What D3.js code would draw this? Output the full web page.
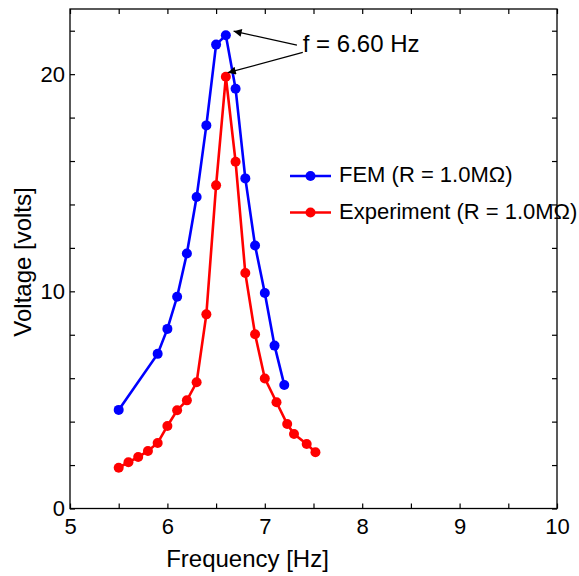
<!DOCTYPE html>
<html>
<head>
<meta charset="utf-8">
<script src="https://cdn.jsdelivr.net/npm/d3@7"></script>
<style>
  body { margin: 0; background: #fff; }
  svg { display: block; font-family: "Liberation Sans", Arial, sans-serif; }
  .axis text { font-size: 22px; fill: #000; font-family: "Liberation Sans", Arial, sans-serif; }
  .axis line { stroke: #000; stroke-width: 1.2; }
</style>
</head>
<body>
<main></main>
<script>
// FEM series
var femFreq = [5.5, 5.9, 6.0, 6.1, 6.2, 6.3, 6.4, 6.5, 6.6, 6.7, 6.8, 6.9, 7.0, 7.1, 7.2];
var femVolt = [4.54, 7.12, 8.27, 9.75, 11.74, 14.34, 17.64, 21.36, 21.79, 19.33, 15.2, 12.11, 9.92, 7.5, 5.69];

// Experiment series
var expFreq = [5.5, 5.6, 5.7, 5.8, 5.9, 6.0, 6.1, 6.2, 6.3, 6.4, 6.5, 6.6, 6.7, 6.8, 6.9, 7.0, 7.12, 7.23, 7.3, 7.43, 7.52];
var expVolt = [1.88, 2.13, 2.37, 2.65, 3.02, 3.80, 4.52, 4.98, 5.81, 8.94, 14.88, 19.88, 15.97, 10.84, 8.02, 5.99, 4.89, 3.89, 3.43, 2.97, 2.59];

var xTicks = [5, 5.5, 6, 6.5, 7, 7.5, 8, 8.5, 9, 9.5, 10];
var yTicks = [0, 2, 4, 6, 8, 10, 12, 14, 16, 18, 20, 22];
var xLabelled = [5, 6, 7, 8, 9, 10];
var yLabelled = [0, 10, 20];

var legendNames = ["FEM (R = 1.0M\u03A9)", "Experiment (R = 1.0M\u03A9)"];
var annoText = "f = 6.60 Hz";

var svg = d3.select("main").append("svg").attr("width", 579).attr("height", 576);

// plot box (window.top is reserved, so prefixed names)
var pLeft = 70, pRight = 557, pTop = 9, pBottom = 508.5;

var x = d3.scaleLinear().domain([5, 10]).range([pLeft, pRight]);
var y = d3.scaleLinear().domain([0, 23]).range([pBottom, pTop]);

function fmtX(d) { return xLabelled.indexOf(d) >= 0 ? d : ""; }
function fmtY(d) { return yLabelled.indexOf(d) >= 0 ? d : ""; }

// axes, ticks pointing inward
svg.append("g").attr("class", "axis")
    .attr("transform", "translate(0," + pBottom + ")")
    .call(d3.axisBottom(x).tickValues(xTicks).tickSize(-5).tickPadding(10).tickFormat(fmtX))
    .call(g => g.select(".domain").remove());

svg.append("g").attr("class", "axis")
    .attr("transform", "translate(0," + pTop + ")")
    .call(d3.axisTop(x).tickValues(xTicks).tickSize(-5).tickFormat(""))
    .call(g => g.select(".domain").remove());

svg.append("g").attr("class", "axis")
    .attr("transform", "translate(" + pLeft + ",0)")
    .call(d3.axisLeft(y).tickValues(yTicks).tickSize(-5).tickPadding(5).tickFormat(fmtY))
    .call(g => g.select(".domain").remove());

svg.append("g").attr("class", "axis")
    .attr("transform", "translate(" + pRight + ",0)")
    .call(d3.axisRight(y).tickValues(yTicks).tickSize(-5).tickFormat(""))
    .call(g => g.select(".domain").remove());

svg.append("rect")
    .attr("x", pLeft).attr("y", pTop)
    .attr("width", pRight - pLeft).attr("height", pBottom - pTop)
    .attr("fill", "none").attr("stroke", "#000").attr("stroke-width", 1.3);

// axis titles
svg.append("text")
    .attr("x", 247.5).attr("y", 567)
    .attr("text-anchor", "middle")
    .attr("font-size", 24)
    .text("Frequency [Hz]");

svg.append("text")
    .attr("transform", "translate(31,262) rotate(-90)")
    .attr("text-anchor", "middle")
    .attr("font-size", 24)
    .text("Voltage [volts]");

var line = d3.line().x(d => x(d[0])).y(d => y(d[1]));

var series = [
    { freq: femFreq, volt: femVolt, color: "#0000ff" },
    { freq: expFreq, volt: expVolt, color: "#ff0000" }
];

series.forEach(function(s) {
    var pts = s.freq.map((f, i) => [f, s.volt[i]]);
    svg.append("path")
        .datum(pts)
        .attr("d", line)
        .attr("fill", "none")
        .attr("stroke", s.color)
        .attr("stroke-width", 2.6);
    svg.append("g").selectAll("circle")
        .data(pts)
        .enter().append("circle")
        .attr("cx", d => x(d[0]))
        .attr("cy", d => y(d[1]))
        .attr("r", 5)
        .attr("fill", s.color);
});

// legend
var legend = svg.append("g");
series.forEach(function(s, i) {
    var ly = 176 + i * 36.5;
    legend.append("line")
        .attr("x1", 290).attr("x2", 331).attr("y1", ly).attr("y2", ly)
        .attr("stroke", s.color).attr("stroke-width", 2.6);
    legend.append("circle")
        .attr("cx", 310.5).attr("cy", ly).attr("r", 5).attr("fill", s.color);
    legend.append("text")
        .attr("x", 339).attr("y", ly + 6)
        .attr("font-size", 22)
        .text(legendNames[i]);
});

// annotation with arrows to the two peaks
svg.append("defs").append("marker")
    .attr("id", "head")
    .attr("viewBox", "0 0 10 10")
    .attr("refX", 10).attr("refY", 5)
    .attr("markerWidth", 11).attr("markerHeight", 8)
    .attr("markerUnits", "userSpaceOnUse")
    .attr("orient", "auto")
  .append("path")
    .attr("d", "M0,0L10,5L0,10Z")
    .attr("fill", "#000");

var arrows = [
    [[7.33, 21.34], [6.68, 21.98]],
    [[7.39, 21.0], [6.62, 20.07]]
];
arrows.forEach(function(a) {
    svg.append("line")
        .attr("x1", x(a[0][0])).attr("y1", y(a[0][1]))
        .attr("x2", x(a[1][0])).attr("y2", y(a[1][1]))
        .attr("stroke", "#000").attr("stroke-width", 1.2)
        .attr("marker-end", "url(#head)");
});

svg.append("text")
    .attr("x", x(7.39)).attr("y", y(21.0))
    .attr("font-size", 24)
    .text(annoText);
</script>
</body>
</html>
